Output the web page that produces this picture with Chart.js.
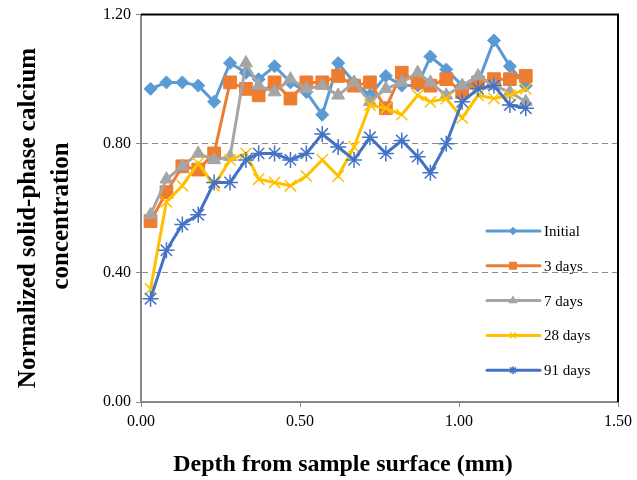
<!DOCTYPE html>
<html>
<head>
<meta charset="utf-8">
<script src="https://cdn.jsdelivr.net/npm/chart.js@4/dist/chart.umd.min.js"></script>
<style>
  body { margin: 0; background: #fff; }
  #wrap { width: 637px; height: 480px; }
</style>
</head>
<body>
<div id="wrap"><canvas id="chart" width="637" height="480"></canvas></div>
<script>
// depth (mm) of each sampled slice
const depths = [0.03, 0.08, 0.13, 0.18, 0.23, 0.28, 0.33, 0.37, 0.42, 0.47, 0.52, 0.57, 0.62,
  0.67, 0.72, 0.77, 0.82, 0.87, 0.91, 0.96, 1.01, 1.06, 1.11, 1.16, 1.21];

const initial = [0.97, 0.99, 0.99, 0.98, 0.93, 1.05, 1.02, 1.00, 1.04, 0.99, 0.96, 0.89, 1.05,
  0.99, 0.95, 1.01, 0.98, 0.98, 1.07, 1.03, 0.98, 0.99, 1.12, 1.04, 0.98];
const days3 = [0.56, 0.65, 0.73, 0.72, 0.77, 0.99, 0.97, 0.95, 0.99, 0.94, 0.99, 0.99, 1.01,
  0.98, 0.99, 0.91, 1.02, 0.99, 0.98, 1.00, 0.96, 0.99, 1.00, 1.00, 1.01];
const days7 = [0.58, 0.69, 0.73, 0.77, 0.75, 0.76, 1.05, 0.98, 0.96, 1.00, 0.97, 0.98, 0.95,
  0.99, 0.93, 0.97, 0.99, 1.02, 0.99, 0.95, 0.98, 1.01, 0.98, 0.96, 0.93];
const days28 = [0.35, 0.62, 0.67, 0.74, 0.67, 0.75, 0.77, 0.69, 0.68, 0.67, 0.70, 0.75, 0.70,
  0.79, 0.92, 0.91, 0.89, 0.95, 0.93, 0.94, 0.88, 0.95, 0.94, 0.95, 0.97];
const days91 = [0.32, 0.47, 0.55, 0.58, 0.68, 0.68, 0.75, 0.77, 0.77, 0.75, 0.77, 0.83, 0.79,
  0.75, 0.82, 0.77, 0.81, 0.76, 0.71, 0.80, 0.93, 0.97, 0.98, 0.92, 0.91];

const seriesNames = ['Initial', '3 days', '7 days', '28 days', '91 days'];
const seriesValues = [initial, days3, days7, days28, days91];
const xTicks = [0, 0.5, 1.0, 1.5];
const yTicks = [0, 0.4, 0.8, 1.2];

const colors = ['#5B9BD5', '#ED7D31', '#A5A5A5', '#FFC000', '#4472C4'];
const markers = ['rectRot', 'rect', 'triangle', 'crossRot', 'star'];
const radii = [6.5, 9, 7.5, 8, 8];
const FONT = "'Liberation Serif', 'Times New Roman', serif";

const datasets = seriesValues.map((vals, i) => ({
  label: seriesNames[i],
  data: vals.map((v, k) => ({ x: depths[k], y: v })),
  showLine: true,
  borderColor: colors[i],
  backgroundColor: colors[i],
  borderWidth: 3,
  pointStyle: markers[i],
  pointRadius: radii[i],
  pointBorderWidth: (i >= 3) ? 1.5 : 1,
  pointBorderColor: colors[i],
  pointBackgroundColor: colors[i],
  order: 4 - i
}));

// frame on top/right, axis titles and the in-plot legend
const extras = {
  id: 'extras',
  afterDraw(chart) {
    const { ctx, chartArea: a } = chart;
    ctx.save();
    ctx.strokeStyle = '#000';
    ctx.lineWidth = 2;
    ctx.beginPath();
    ctx.moveTo(a.left, a.top);
    ctx.lineTo(a.right, a.top);
    ctx.lineTo(a.right, a.bottom);
    ctx.stroke();

    ctx.fillStyle = '#000';
    ctx.textAlign = 'center';
    ctx.textBaseline = 'middle';
    ctx.font = 'bold 24px ' + FONT;
    ctx.fillText('Depth from sample surface (mm)', 343, 465);

    ctx.font = 'bold 25px ' + FONT;
    ctx.save();
    ctx.translate(29, 218);
    ctx.rotate(-Math.PI / 2);
    ctx.fillText('Normalized solid-phase calcium', 0, 0);
    ctx.restore();
    ctx.save();
    ctx.translate(62, 216);
    ctx.rotate(-Math.PI / 2);
    ctx.fillText('concentration', 0, 0);
    ctx.restore();

    // legend
    ctx.font = '15px ' + FONT;
    ctx.textAlign = 'left';
    seriesNames.forEach((name, i) => {
      const y = 231 + i * 34.8;
      ctx.strokeStyle = colors[i];
      ctx.lineWidth = 3;
      ctx.lineCap = 'round';
      ctx.beginPath();
      ctx.moveTo(487, y);
      ctx.lineTo(540, y);
      ctx.stroke();
      ctx.lineCap = 'butt';
      ctx.fillStyle = colors[i];
      ctx.strokeStyle = colors[i];
      ctx.lineWidth = 1.5;
      Chart.helpers.drawPoint(ctx, { pointStyle: markers[i], radius: radii[i] * 0.5, rotation: 0, borderWidth: 1.5 }, 513, y);
      ctx.fillStyle = '#000';
      ctx.fillText(name, 544, y + 1);
    });
    ctx.restore();
  }
};

new Chart(document.getElementById('chart'), {
  type: 'scatter',
  data: { datasets },
  options: {
    responsive: false,
    animation: false,
    layout: { padding: { top: 13, right: 16, left: 0, bottom: 0 } },
    plugins: { legend: { display: false }, tooltip: { enabled: false } },
    scales: {
      x: {
        type: 'linear',
        min: 0,
        max: 1.5,
        afterBuildTicks: s => { s.ticks = xTicks.map(v => ({ value: v })); },
        afterFit: s => { s.height = 78; },
        ticks: {
          color: '#000',
          font: { family: FONT, size: 16 },
          padding: 5,
          callback: v => Number(v).toFixed(2)
        },
        grid: { drawOnChartArea: false, tickLength: 5, color: '#888', tickColor: '#888' },
        border: { color: '#888', width: 2 }
      },
      y: {
        min: 0,
        max: 1.2,
        afterBuildTicks: s => { s.ticks = yTicks.map(v => ({ value: v })); },
        afterFit: s => { s.width = 141; },
        ticks: {
          color: '#000',
          font: { family: FONT, size: 16 },
          padding: 5,
          callback: v => Number(v).toFixed(2)
        },
        grid: {
          color: '#8c8c8c',
          lineWidth: 1,
          tickLength: 5,
          tickColor: '#888',
          tickBorderDash: [],
          drawTicks: true
        },
        border: { color: '#888', width: 2, dash: [6, 4] }
      }
    }
  },
  plugins: [extras]
});
</script>
</body>
</html>
